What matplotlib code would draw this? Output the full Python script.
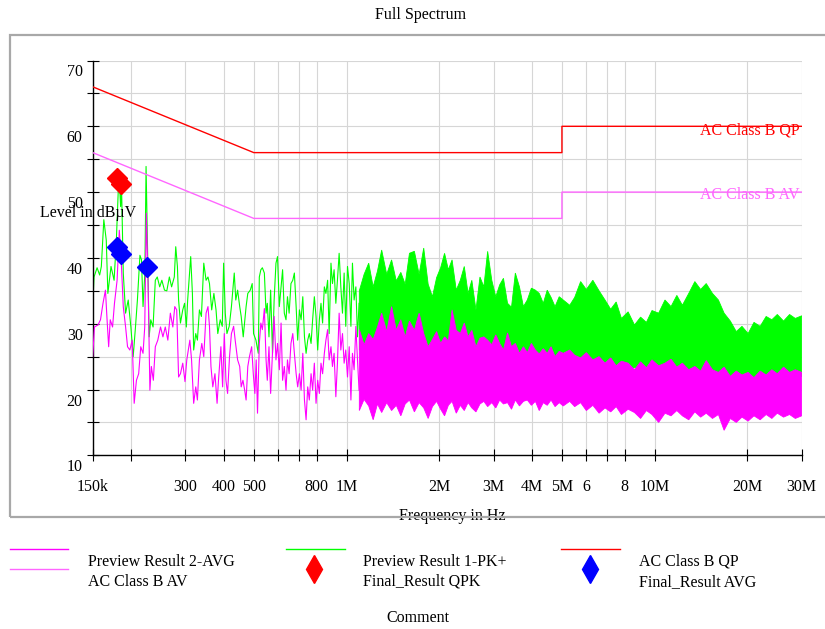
# EMI conducted emission scan, CISPR class B limits, recreated from an exported report figure
import matplotlib.pyplot as plt
from matplotlib.lines import Line2D
from matplotlib.patches import Rectangle
from matplotlib.ticker import FixedLocator, FixedFormatter, NullLocator

# ---- data (frequency in MHz, level in dBuV) ----

# peak trace, sparse part 150k..517k
pk_f_low = [0.150, 0.1515, 0.155, 0.158, 0.160, 0.163, 0.166, 0.168, 0.172, 0.176,
            0.179, 0.1825, 0.1848, 0.186, 0.1885, 0.1918, 0.1956, 0.1995, 0.203, 0.2065,
            0.2095, 0.2135, 0.216, 0.2185, 0.2215, 0.2235, 0.2258, 0.2287, 0.2315, 0.2355,
            0.2395, 0.243, 0.2475, 0.2515, 0.2565, 0.261, 0.266, 0.2705, 0.276, 0.279,
            0.2825, 0.285, 0.289, 0.294, 0.298, 0.302, 0.305, 0.312, 0.316, 0.319,
            0.324, 0.328, 0.333, 0.338, 0.344, 0.350, 0.355, 0.359, 0.365, 0.371,
            0.377, 0.382, 0.389, 0.395, 0.399, 0.404, 0.409, 0.416, 0.423, 0.432,
            0.437, 0.443, 0.450, 0.455, 0.462, 0.472, 0.478, 0.487, 0.494, 0.499,
            0.508, 0.517]
pk_low = [32.6, 37.1, 38.5, 37.4, 38.7, 45.8, 42.7, 34.6, 38.7, 36.6,
          42.7, 52.9, 47.8, 51.3, 37.7, 31.6, 33.6, 29.5, 25.0, 29.5,
          33.6, 40.4, 39.7, 32.6, 37.7, 53.9, 42.7, 28.0, 30.6, 29.5,
          36.6, 37.1, 35.6, 36.6, 35.1, 35.0, 37.1, 35.6, 37.1, 41.7,
          38.7, 33.6, 30.1, 32.1, 33.1, 29.5, 33.6, 40.2, 34.6, 26.0,
          28.5, 27.5, 32.1, 31.1, 39.2, 36.6, 37.1, 36.1, 32.1, 34.6,
          32.1, 28.5, 30.6, 29.6, 39.2, 31.6, 28.5, 29.6, 32.6, 37.7,
          33.6, 35.1, 32.6, 31.1, 28.0, 32.6, 34.6, 35.1, 36.1, 28.5,
          27.5, 25.5]

# average trace, sparse part 150k..514k
av_f_low = [0.150, 0.152, 0.156, 0.159, 0.162, 0.165, 0.167, 0.169, 0.171, 0.174,
            0.1765, 0.180, 0.183, 0.186, 0.1885, 0.1918, 0.1946, 0.198, 0.2015, 0.2045,
            0.208, 0.2115, 0.2148, 0.2185, 0.2213, 0.224, 0.227, 0.230, 0.2325, 0.236,
            0.2395, 0.244, 0.249, 0.2535, 0.258, 0.263, 0.268, 0.273, 0.277, 0.281,
            0.285, 0.289, 0.294, 0.299, 0.303, 0.310, 0.314, 0.319, 0.324, 0.328,
            0.333, 0.339, 0.344, 0.350, 0.355, 0.359, 0.363, 0.368, 0.374, 0.380,
            0.384, 0.391, 0.396, 0.401, 0.406, 0.411, 0.417, 0.423, 0.430, 0.435,
            0.443, 0.450, 0.455, 0.461, 0.467, 0.472, 0.478, 0.484, 0.492, 0.498,
            0.504, 0.509, 0.514]
av_low = [25.0, 29.5, 29.8, 30.6, 33.1, 35.1, 30.6, 26.5, 30.6, 29.5,
          33.1, 36.6, 44.2, 38.7, 32.6, 29.5, 26.5, 26.0, 27.5, 17.9,
          21.4, 22.4, 26.5, 25.5, 29.5, 46.8, 35.6, 19.9, 23.5, 21.4,
          26.5, 27.5, 29.5, 28.0, 29.5, 27.5, 31.6, 29.5, 32.6, 32.1,
          21.9, 22.4, 24.0, 21.2, 24.5, 27.5, 24.5, 17.9, 20.4, 18.4,
          24.5, 27.0, 25.0, 31.6, 32.6, 29.6, 23.5, 20.4, 22.4, 17.9,
          21.4, 26.5, 20.4, 28.5, 21.4, 19.4, 25.0, 28.5, 29.6, 27.5,
          24.5, 23.5, 20.4, 21.4, 19.9, 18.4, 23.5, 25.0, 26.5, 22.4,
          19.4, 24.5, 16.4]

# both traces, 521k..1.1M
f_mid = [0.521, 0.527, 0.533, 0.541, 0.548, 0.553, 0.560, 0.567, 0.575, 0.582,
         0.590, 0.597, 0.605, 0.613, 0.620, 0.628, 0.636, 0.643, 0.651, 0.660,
         0.669, 0.677, 0.686, 0.694, 0.703, 0.712, 0.721, 0.730, 0.739, 0.748,
         0.757, 0.767, 0.776, 0.786, 0.796, 0.806, 0.816, 0.826, 0.836, 0.847,
         0.857, 0.868, 0.878, 0.890, 0.900, 0.911, 0.923, 0.934, 0.946, 0.958,
         0.970, 0.982, 0.994, 1.007, 1.020, 1.033, 1.045, 1.058, 1.072, 1.085,
         1.098]
pk_mid = [37.1, 38.2, 38.5, 37.7, 31.6, 33.1, 28.0, 35.1, 25.5, 33.6,
          39.2, 40.2, 32.6, 35.6, 38.2, 31.6, 30.6, 34.1, 31.6, 36.1,
          36.6, 37.7, 32.6, 27.5, 32.1, 30.6, 34.1, 28.0, 25.5, 27.5,
          28.5, 27.0, 30.6, 34.1, 31.1, 26.0, 30.6, 33.1, 30.1, 35.6,
          34.6, 36.6, 28.5, 39.2, 36.1, 38.2, 33.1, 36.6, 40.7, 35.6,
          31.6, 37.7, 29.6, 38.7, 36.1, 29.6, 39.2, 33.6, 35.6, 28.0,
          33.1]
av_mid = [27.0, 30.1, 29.1, 32.3, 24.5, 21.4, 26.5, 19.4, 25.5, 31.1,
          24.5, 27.0, 23.0, 30.1, 21.4, 23.5, 19.9, 24.5, 22.4, 27.0,
          28.5, 25.5, 22.4, 20.4, 22.4, 19.9, 25.5, 18.4, 15.4, 20.4,
          18.4, 22.4, 19.9, 24.0, 17.9, 21.4, 19.4, 24.0, 22.4, 25.5,
          27.5, 29.1, 24.5, 26.5, 23.5, 25.5, 18.9, 24.0, 31.6, 26.0,
          28.5, 24.0, 26.0, 21.9, 26.5, 18.4, 25.5, 23.0, 29.6, 24.5,
          19.9]

# dense part 1.1M..30M: upper / lower edges of the noise band
f_band = [1.10, 1.14, 1.18, 1.22, 1.26, 1.30, 1.35, 1.40, 1.45, 1.50,
          1.55, 1.60, 1.66, 1.72, 1.78, 1.84, 1.90, 1.96, 2.02, 2.08,
          2.14, 2.20, 2.27, 2.34, 2.41, 2.48, 2.55, 2.63, 2.71, 2.79,
          2.87, 2.96, 3.05, 3.14, 3.23, 3.33, 3.43, 3.53, 3.64, 3.75,
          3.86, 3.98, 4.10, 4.22, 4.35, 4.48, 4.61, 4.75, 4.90, 5.05,
          5.30, 5.50, 5.75, 6.00, 6.30, 6.60, 6.90, 7.20, 7.50, 7.80,
          8.20, 8.60, 9.00, 9.40, 9.80, 10.3, 10.8, 11.3, 11.8, 12.3,
          12.9, 13.5, 14.1, 14.7, 15.4, 16.1, 16.8, 17.6, 18.4, 19.2,
          20.1, 21.0, 22.0, 23.0, 24.0, 25.0, 26.2, 27.4, 28.6, 30.0]
pk_top = [35.0, 37.5, 39.2, 35.6, 38.0, 41.2, 37.5, 39.7, 36.5, 37.8,
          36.0, 40.7, 41.0, 37.5, 41.5, 36.0, 34.1, 37.0, 38.5, 40.7,
          38.2, 39.7, 35.1, 36.6, 38.7, 34.6, 36.6, 32.1, 37.1, 35.6,
          41.0, 36.6, 34.1, 35.9, 36.9, 33.1, 32.5, 37.7, 35.6, 32.6,
          33.6, 35.4, 35.1, 34.6, 33.1, 35.1, 34.0, 32.6, 34.1, 33.6,
          32.8, 34.0, 36.4, 35.2, 36.6, 35.0, 33.6, 32.2, 33.3, 30.8,
          31.8, 29.8, 31.0, 30.2, 32.0, 31.6, 33.6, 32.6, 34.3, 32.8,
          34.6, 36.4, 35.2, 36.1, 34.6, 33.6, 31.6, 30.4, 28.8, 29.6,
          28.5, 30.2, 29.6, 31.1, 30.6, 31.4, 30.4, 31.4, 30.8, 31.2]
av_top = [29.1, 26.8, 28.5, 27.6, 29.5, 31.6, 28.8, 32.6, 29.0, 30.6,
          28.0, 30.4, 29.0, 31.6, 28.5, 26.5, 27.6, 28.8, 27.0, 28.0,
          27.4, 32.1, 29.0, 28.5, 30.1, 28.0, 29.0, 26.5, 27.8, 28.0,
          27.5, 26.8, 28.3, 27.0, 26.0, 28.6, 26.5, 27.0, 25.5, 26.5,
          25.6, 27.0, 26.0, 25.4, 26.2, 25.5, 26.5, 25.0, 25.8, 25.5,
          26.0, 25.2, 24.8, 25.6, 24.5, 25.0, 24.0, 24.8, 23.6, 24.3,
          24.0, 23.0, 24.2, 23.3, 24.5, 23.6, 24.0, 24.6, 23.4, 24.0,
          23.0, 23.5, 22.8, 24.4, 23.0, 22.6, 23.4, 22.0, 22.8, 22.2,
          22.6, 21.8, 22.8, 22.2, 23.0, 22.4, 23.4, 22.6, 23.0, 22.6]
av_bot = [16.8, 18.5, 17.5, 15.4, 17.8, 16.5, 18.0, 16.8, 17.6, 16.0,
          17.8, 18.4, 16.6, 18.0, 17.2, 15.6, 17.4, 18.2, 17.0, 16.0,
          17.6, 18.2, 16.4, 17.6, 16.8, 18.0, 17.2, 16.6, 17.8, 18.2,
          17.4, 18.0, 17.2, 18.4, 17.8, 18.0, 17.0, 18.4, 17.5, 18.2,
          18.4, 17.6, 18.2, 16.8, 18.0, 17.6, 18.4, 17.4, 18.0, 17.5,
          18.2, 17.4, 18.0, 16.8, 17.6, 16.4, 17.2, 16.6, 17.4, 16.2,
          17.0, 16.5, 15.6, 16.8, 16.2, 15.0, 16.4, 16.0, 16.8, 16.0,
          15.4, 16.6, 15.8, 16.4, 15.6, 16.2, 13.8, 15.6, 15.0, 15.8,
          15.2, 16.0, 15.4, 16.2, 15.6, 16.4, 15.8, 16.2, 15.6, 16.0]
pk_floor_f = [1.10, 1.3, 1.6, 2.0, 2.5, 3.0, 4.0, 5.0, 7.0, 10, 15, 20, 30]
pk_floor = [26.0, 27.0, 24.5, 25.0, 24.5, 25.5, 24.5, 24.0, 23.0, 23.5, 22.0, 21.5, 22.0]

# limit lines
lim_f = [0.15, 0.5, 5, 5, 30]
qp_limit = [66, 56, 56, 60, 60]
av_limit = [56, 46, 46, 50, 50]

# final measurements
qpk_f = [0.1795, 0.185]
qpk_lvl = [52.2, 51.2]
avg_f = [0.180, 0.1855, 0.2256]
avg_lvl = [41.6, 40.6, 38.6]

x_ticks = [0.15, 0.2, 0.3, 0.4, 0.5, 0.6, 0.7, 0.8, 1, 2, 3, 4, 5, 6, 7, 8, 10, 20, 30]
x_labels = ['150k', '', '300', '400', '500', '', '', '800', '1M', '2M', '3M', '4M',
            '5M', '6', '', '8', '10M', '20M', '30M']

# ---- figure ----
plt.rcParams['font.family'] = ['Liberation Serif', 'DejaVu Serif']
plt.rcParams['font.size'] = 11.5

W, H = 825, 629
fig = plt.figure(figsize=(W / 100, H / 100), dpi=100)


def fx(x):
    return x / W


def fy(y):
    return 1 - y / H


ax = fig.add_axes([fx(92.7), fy(455.3), fx(801.7) - fx(92.7), fy(60.5) - fy(455.3)])
ax.set_xscale('log')
ax.set_xlim(0.15, 30)
ax.set_ylim(10, 70)

GREEN = '#00ff00'
MAG = '#ff00ff'
AVLIM = '#ff66ff'

ax.plot(pk_f_low + f_mid, pk_low + pk_mid, color=GREEN, lw=0.8, zorder=2)
ax.fill(f_band + pk_floor_f[::-1], pk_top + pk_floor[::-1], facecolor=GREEN,
        edgecolor=GREEN, lw=0.6, zorder=2)
ax.plot(av_f_low + f_mid, av_low + av_mid, color=MAG, lw=0.8, zorder=3)
ax.fill(f_band + f_band[::-1], av_top + av_bot[::-1], facecolor=MAG,
        edgecolor=MAG, lw=0.6, zorder=3)

ax.plot(lim_f, qp_limit, color='red', lw=1, zorder=4)
ax.plot(lim_f, av_limit, color=AVLIM, lw=1, zorder=4)

ax.plot(qpk_f, qpk_lvl, 'D', color='red', ms=10, zorder=5)
ax.plot(avg_f, avg_lvl, 'D', color='blue', ms=10, zorder=5)

ax.annotate('AC Class B QP', xy=(1, 60), xycoords=('axes fraction', 'data'),
            xytext=(-2, -4), textcoords='offset pixels', ha='right', va='center',
            color='red')
ax.annotate('AC Class B AV', xy=(1, 50), xycoords=('axes fraction', 'data'),
            xytext=(-2, -3), textcoords='offset pixels', ha='right', va='center',
            color=AVLIM)

# axes styling
ax.xaxis.set_major_locator(FixedLocator(x_ticks))
ax.xaxis.set_major_formatter(FixedFormatter(x_labels))
ax.xaxis.set_minor_locator(NullLocator())
ax.set_yticks(range(10, 71, 5))
ax.set_yticklabels([])
for v in range(10, 71, 10):
    ax.annotate(str(v), xy=(0, v), xycoords=('axes fraction', 'data'),
                xytext=(-10, -12), textcoords='offset pixels', ha='right', va='center')
ax.tick_params(direction='inout', length=8, width=0.8, colors='black')
ax.tick_params(axis='x', pad=13)
ax.grid(True, color='#d6d6d6', lw=0.8)
ax.set_axisbelow(True)
for s in ('top', 'right'):
    ax.spines[s].set_visible(False)
for s in ('left', 'bottom'):
    ax.spines[s].set_linewidth(1)

# surrounding texts and frame
fig.text(fx(421), fy(15), 'Full Spectrum', ha='center', va='center')
fig.text(fx(40), fy(213), 'Level in dBµV', ha='left', va='center', zorder=6)
fig.text(fx(452), fy(520), 'Frequency in Hz', ha='center', va='baseline', zorder=4)
fig.add_artist(Rectangle((fx(10), fy(517)), fx(840) - fx(10), fy(35) - fy(517),
                         transform=fig.transFigure, fill=False,
                         edgecolor='#a8a8a8', lw=1.6, zorder=5))

# legend built by hand
legend_lines = [(10, 68, 549, MAG), (10, 68, 569, AVLIM),
                (286, 345, 549, GREEN), (561, 620, 549, 'red')]
for x0, x1, y, c in legend_lines:
    fig.add_artist(Line2D([fx(x0), fx(x1)], [fy(y), fy(y)], transform=fig.transFigure,
                          color=c, lw=1))
fig.add_artist(Line2D([fx(314)], [fy(569)], transform=fig.transFigure, marker='d',
                      color='red', ms=14, ls='none'))
fig.add_artist(Line2D([fx(590)], [fy(569)], transform=fig.transFigure, marker='d',
                      color='blue', ms=14, ls='none'))
legend_texts = [(88, 'Preview Result 2-AVG', 'AC Class B AV'),
                (363, 'Preview Result 1-PK+', 'Final_Result QPK'),
                (639, 'AC Class B QP', 'Final_Result AVG')]
for x, t1, t2 in legend_texts:
    fig.text(fx(x), fy(561.7), t1, ha='left', va='center')
    fig.text(fx(x), fy(581.7), t2, ha='left', va='center')
fig.text(fx(418), fy(618), 'Comment', ha='center', va='center')

fig.savefig('out.png', dpi=100)
